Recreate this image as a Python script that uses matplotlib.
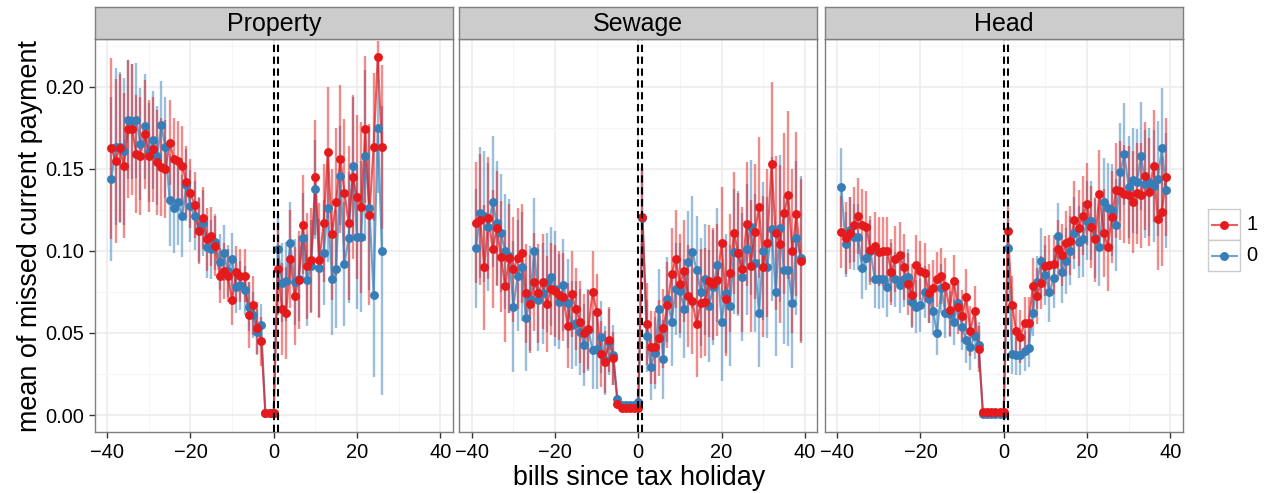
import matplotlib
matplotlib.use('Agg')
import matplotlib.pyplot as plt
from matplotlib.patches import Rectangle
from matplotlib.lines import Line2D

plt.rcParams['font.family'] = ['Liberation Sans', 'DejaVu Sans']

RED = '#E41A1C'
BLUE = '#377EB8'

panels = ['Property', 'Sewage', 'Head']
series_labels = ['1', '0']
x_title = 'bills since tax holiday'
y_title = 'mean of missed current payment'
x_ticks = [-40, -20, 0, 20, 40]
y_ticks = [0.00, 0.05, 0.10, 0.15, 0.20]
cutoffs = [0, 1]

# ---------------- Property ----------------
prop_x = list(range(-39, 27))
prop_red = [.1625, .155, .1625, .152, .174, .174, .159, .158, .171, .158, .162, .154, .151, .150,
            .166, .156, .155, .152, .142, .135, .128, .112, .120, .107, .109, .103, .085, .088,
            .085, .070, .087, .085, .085, .061, .067, .053, .045, .001, .001, .001,
            .0887, .0644, .0623, .0952, .0725, .0822, .116, .0908, .0944, .1448, .0944, .117,
            .160, .110, .130, .156, .1355, .117, .145, .133, .1265, .174, .122, .1635, .218, .1635]
prop_red_err = [.055, .05, .045, .044, .042, .04,
                .036, .036, .033, .034, .032, .032,
                .03, .03, .026, .025, .024, .024,
                .022, .021, .02, .02, .019, .019,
                .018, .018, .017, .017, .016, .015,
                .016, .016, .016, .02, .018, .016, .015,
                .001, .001, .001,
                .028, .028, .028, .03, .03,
                .03, .03, .032, .032, .035,
                .035, .036, .04, .04, .045,
                .045, .045, .047, .05, .05,
                .052, .045, .055, .045, .01, .05]
prop_blue = [.1436, .1635, .163, .1606, .180, .179, .1797, .165, .176, .160, .1675, .158, .1765, .163,
             .131, .126, .1296, .121, .140, .1275, .1214, .113, .117, .1025, .101, .1056, .0934, .0985,
             .0877, .0948, .078, .079, .076, .066, .0607, .0506, .0548, .001, .001, .001,
             .101, .0806, .0814, .1046, .081, .083, .108, .082, .091, .1375, .0896, .099,
             .126, .083, .089, .1458, .092, .108, .1517, .1086, .1086, .158, .126, .073, .175, .100]
prop_blue_err = [.05, .048, .046, .045, .036, .035,
                 .035, .034, .032, .03, .03, .03,
                 .027, .031, .028, .027, .026, .025,
                 .022, .022, .021, .02, .02, .019,
                 .018, .017, .017, .017, .016, .016,
                 .016, .015, .015, .015, .014, .014, .013,
                 .001, .001, .001,
                 .022, .024, .024, .025, .026,
                 .026, .027, .028, .028, .03,
                 .03, .032, .033, .034, .036,
                 .03, .038, .04, .042, .044,
                 .046, .052, .05, .05, .04, .088]

# ---------------- Sewage ----------------
sew_x = list(range(-39, 40))
sew_red = [.1172, .119, .090, .120, .101, .1137, .0965, .0786, .0954, .0887, .0954, .0985, .0741,
           .0676, .0812, .0741, .0812, .0676, .0766, .0757, .073, .072, .0544, .0737, .0644, .0569,
           .0497, .0522, .0751, .063, .0372, .0325, .046, .0345, .007, .004, .004, .004, .004, .004,
           .1208, .0554, .0412, .0412, .047, .0528, .067, .086, .095, .080, .0877, .0725, .0692,
           .0554, .068, .069, .0818, .080, .0822, .105, .071, .0863, .111, .0985, .0887, .1164,
           .0908, .1117, .1265, .0904, .105, .1529, .111, .1042, .1229, .134, .100, .1224, .094]
sew_red_err = [.037, .04, .038, .037, .036, .035,
               .034, .034, .033, .032, .031, .03,
               .03, .03, .03, .03, .029, .029,
               .028, .028, .027, .027, .026, .026,
               .025, .025, .024, .024, .025, .023,
               .02, .019, .02, .016,
               .003, .002, .002, .002, .002, .002,
               .03, .025, .022, .022, .023,
               .024, .026, .028, .03, .03,
               .031, .031, .032, .032, .033,
               .033, .034, .034, .034, .034,
               .035, .036, .037, .037, .038,
               .038, .04, .041, .043, .043,
               .045, .05, .047, .048, .049,
               .051, .05, .05, .05]
sew_blue = [.1015, .1233, .121, .1143, .130, .117, .111, .0999, .0969, .066, .085, .0904, .0589,
            .071, .100, .070, .0741, .0808, .0843, .077, .069, .079, .068, .0548, .0558, .0506,
            .0426, .052, .0396, .040, .0477, .0335, .0447, .0366, .010, .006, .006, .006, .006, .008,
            .120, .048, .0294, .038, .0648, .034, .0705, .0569, .0766, .0757, .0648, .0934, .0995,
            .0883, .075, .0826, .0666, .0778, .0914, .0569, .0741, .0666, .0995, .0985, .0839, .101,
            .1143, .0928, .0623, .100, .090, .1135, .075, .1137, .0883, .0883, .0684, .108, .0954]
sew_blue_err = [.036, .04, .04, .039, .04, .038,
                .036, .035, .035, .04, .034, .033,
                .032, .032, .032, .031, .031, .03,
                .03, .035, .029, .028, .027, .027,
                .026, .026, .025, .025, .024, .024,
                .022, .021, .02, .018,
                .003, .002, .002, .002, .002, .003,
                .03, .022, .02, .022, .024,
                .024, .026, .027, .028, .029,
                .03, .031, .034, .033, .033,
                .034, .034, .035, .035, .036,
                .036, .037, .038, .038, .039,
                .04, .041, .042, .033, .042,
                .043, .044, .039, .045, .045,
                .046, .04, .047, .05]

# ---------------- Head ----------------
head_x = list(range(-39, 40))
head_red = [.1117, .108, .111, .116, .1214, .116, .1147, .1005, .103, .0995, .0997, .0997, .0873,
            .095, .0975, .090, .0798, .0729, .0914, .088, .0867, .0741, .0772, .0826, .0847, .0788,
            .064, .0818, .0656, .0603, .0717, .0512, .0636, .040, .002, .002, .002, .002, .002, .002,
            .1123, .0669, .0514, .0477, .0562, .0562, .0786, .0727, .0806, .0908, .0914, .0918,
            .1011, .0975, .1046, .1062, .1188, .1141, .1214, .1283, .1143, .107, .1346, .111,
            .1025, .1208, .137, .1367, .1346, .134, .130, .135, .134, .1458, .136, .1519, .1194,
            .1239, .1448]
head_red_err = [.022, .022, .022, .023, .023, .022,
                .022, .021, .021, .021, .021, .021,
                .02, .02, .02, .02, .019, .019,
                .018, .018, .018, .018, .017, .017,
                .017, .017, .016, .016, .016, .016,
                .017, .015, .015, .014,
                .001, .001, .001, .001, .001, .001,
                .019, .018, .017, .016, .016,
                .016, .017, .017, .016, .018,
                .018, .018, .018, .019, .02,
                .021, .024, .023, .024, .025,
                .025, .026, .027, .027, .027,
                .028, .029, .03, .03, .03,
                .031, .031, .032, .033, .033,
                .034, .031, .033, .036]
head_blue = [.1387, .104, .1127, .1086, .1086, .0896, .0954, .100, .083, .0826, .083, .078, .087,
             .0826, .079, .0826, .0839, .069, .066, .0668, .075, .071, .0636, .0497, .0772, .062,
             .0615, .0569, .068, .0538, .0457, .0416, .0483, .0426, .0005, .0005, .0005, .0005,
             .0005, .0005,
             .1015, .037, .0366, .0366, .039, .041, .0623, .0808, .094, .0853, .0747, .0835, .109,
             .087, .094, .100, .1107, .1056, .107, .1184, .1184, .1076, .1025, .1296, .1263, .125,
             .116, .148, .1588, .139, .143, .142, .158, .1407, .142, .1395, .144, .1625, .137]
head_blue_err = [.024, .02, .02, .02, .02, .019,
                 .019, .019, .018, .018, .018, .018,
                 .018, .017, .017, .017, .017, .016,
                 .016, .016, .016, .015, .015, .013,
                 .015, .015, .014, .014, .014, .014,
                 .014, .014, .014, .014,
                 .001, .001, .001, .001, .001, .001,
                 .018, .012, .012, .012, .012,
                 .012, .014, .016, .02, .018,
                 .018, .018, .02, .019, .02,
                 .021, .022, .022, .023, .024,
                 .024, .024, .024, .027, .027,
                 .028, .028, .03, .031, .031,
                 .032, .032, .033, .033, .033,
                 .034, .035, .037, .035]

panel_data = [
    (prop_x, prop_red, prop_red_err, prop_blue, prop_blue_err),
    (sew_x, sew_red, sew_red_err, sew_blue, sew_blue_err),
    (head_x, head_red, head_red_err, head_blue, head_blue_err),
]

W, H = 1264, 493
fig = plt.figure(figsize=(W / 100, H / 100), dpi=100)


def fx(px):
    return px / W


def fy(py):
    return 1 - py / H


panel_left = [94.7, 459.3, 824.7]
pw = 358.0
ptop, pbot = 39.3, 432.3
strip_top = 7.3
BORDER = '#7F7F7F'

for i, name in enumerate(panels):
    x, yr, er, yb, eb = panel_data[i]
    ax = fig.add_axes([fx(panel_left[i]), fy(pbot), pw / W, (pbot - ptop) / H])
    ax.set_xlim(-43, 43)
    ax.set_ylim(-0.0105, 0.2289)
    ax.set_xticks(x_ticks)
    ax.set_xticks([-30, -10, 10, 30], minor=True)
    ax.set_yticks(y_ticks)
    ax.set_yticks([0.025, 0.075, 0.125, 0.175, 0.225], minor=True)
    ax.set_yticklabels(['%.2f' % v for v in y_ticks])
    ax.grid(which='major', color='#EBEBEB', lw=1.1, zorder=0)
    ax.grid(which='minor', color='#F6F6F6', lw=0.8, zorder=0)
    ax.set_axisbelow(True)
    ax.tick_params(which='minor', length=0)
    ax.tick_params(which='major', length=4.5, width=1.0, color='#333333',
                   labelsize=14.4, labelcolor='black', pad=3)
    if i > 0:
        ax.tick_params(axis='y', left=False, labelleft=False)
    for s in ax.spines.values():
        s.set_color(BORDER)
        s.set_linewidth(1.0)

    for yy, ee, c, zb in [(yb, eb, BLUE, 2), (yr, er, RED, 2.1)]:
        lo = [a - b for a, b in zip(yy, ee)]
        hi = [a + b for a, b in zip(yy, ee)]
        ax.vlines(x, lo, hi, color=c, alpha=0.5, lw=1.7, zorder=zb)
    ax.plot(x, yb, color=BLUE, alpha=0.7, lw=1.5, zorder=3)
    ax.plot(x, yr, color=RED, alpha=0.7, lw=1.5, zorder=3.1)
    ax.plot(x, yb, 'o', ms=6.4, color=BLUE, mec='none', zorder=4)
    ax.plot(x, yr, 'o', ms=6.4, color=RED, mec='none', zorder=4.1)
    for c0 in cutoffs:
        ax.axvline(c0, color='black', lw=1.5, ls=(0, (3.5, 2.2)), zorder=10)

    sax = fig.add_axes([fx(panel_left[i]), fy(ptop), pw / W, (ptop - strip_top) / H])
    sax.set_facecolor('#CCCCCC')
    sax.set_xticks([])
    sax.set_yticks([])
    for s in sax.spines.values():
        s.set_color(BORDER)
        s.set_linewidth(1.0)
    sax.text(0.5, 0.47, name, ha='center', va='center', size=18, transform=sax.transAxes)

fig.text(fx(638.7), fy(478), x_title, ha='center', va='center', size=19.4)
fig.text(fx(30), fy(236), y_title, ha='center', va='center', size=19.4, rotation=90)

# legend
lax = fig.add_axes([fx(1195), fy(290), 69 / W, 90 / H])
lax.set_xlim(1195, 1264)
lax.set_ylim(290, 200)
lax.axis('off')
for k, (lab, c) in enumerate(zip(series_labels, [RED, BLUE])):
    top = 209 + 31 * k
    lax.add_patch(Rectangle((1208.3, top), 31.7, 31, facecolor='white', edgecolor='#CCCCCC', lw=1.0))
    cy = top + 15.5
    lax.add_line(Line2D([1211.7, 1236.7], [cy, cy], color=c, alpha=0.7, lw=1.5))
    lax.plot([1224.2], [cy], 'o', ms=6.4, color=c, mec='none')
    lax.text(1246, cy, lab, ha='left', va='center', size=14.4)

fig.savefig('out.png', dpi=100)
